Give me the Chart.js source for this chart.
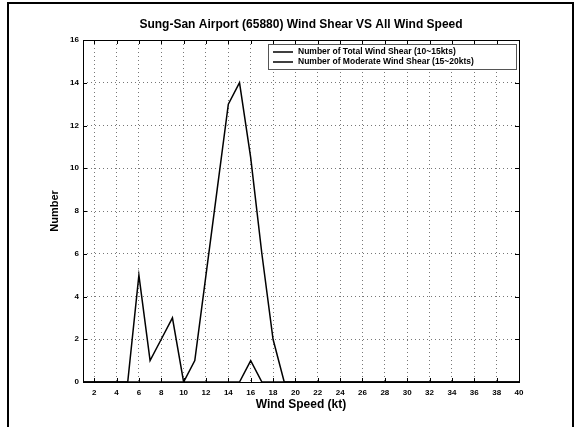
<!DOCTYPE html>
<html>
<head>
<meta charset="utf-8">
<script src="https://cdn.jsdelivr.net/npm/chart.js@4"></script>
<style>
  html,body{margin:0;padding:0;background:#fff;}
  #wrap{width:581px;height:427px;}
</style>
</head>
<body>
<div id="wrap"><canvas id="shear" width="581" height="427"></canvas></div>
<script>
// wind speed bins (kt)
const speeds = [1,2,3,4,5,6,7,8,9,10,11,12,13,14,15,16,17,18,19,20,
                21,22,23,24,25,26,27,28,29,30,31,32,33,34,35,36,37,38,39,40];
const totalShear = [0,0,0,0,0,5,1,2,3,0,1,5,9,13,14,10.5,6,2,0,0,
                    0,0,0,0,0,0,0,0,0,0,0,0,0,0,0,0,0,0,0,0];
const moderateShear = [0,0,0,0,0,0,0,0,0,0,0,0,0,0,0,1,0,0,0,0,
                       0,0,0,0,0,0,0,0,0,0,0,0,0,0,0,0,0,0,0,0];
const xTicks = [2,4,6,8,10,12,14,16,18,20,22,24,26,28,30,32,34,36,38,40];
const yTicks = [0,2,4,6,8,10,12,14,16];

const FONT = '"Liberation Sans", Arial, sans-serif';
const pts = ys => speeds.map((s,i)=>({x:s,y:ys[i]}));

// frame, box, inward ticks, titles and legend
const decor = {
  id:'decor',
  afterDraw(chart){
    const {ctx, chartArea:a, scales:{x,y}} = chart;
    ctx.save();
    ctx.strokeStyle = '#000';
    ctx.lineWidth = 1;
    ctx.strokeRect(a.left+0.5, a.top+0.5, a.right-a.left, a.bottom-a.top);
    // inward tick marks
    ctx.beginPath();
    xTicks.forEach(v=>{
      const px = Math.round(x.getPixelForValue(v))+0.5;
      ctx.moveTo(px,a.bottom); ctx.lineTo(px,a.bottom-4);
      ctx.moveTo(px,a.top); ctx.lineTo(px,a.top+4);
    });
    yTicks.forEach(v=>{
      const py = Math.round(y.getPixelForValue(v))+0.5;
      ctx.moveTo(a.left,py); ctx.lineTo(a.left+4,py);
      ctx.moveTo(a.right,py); ctx.lineTo(a.right-4,py);
    });
    ctx.stroke();
    // outer figure frame
    ctx.lineWidth = 2;
    ctx.beginPath();
    ctx.moveTo(8,440); ctx.lineTo(8,3); ctx.lineTo(573,3); ctx.lineTo(573,440);
    ctx.stroke();

    ctx.fillStyle = '#000';
    ctx.textAlign = 'center';
    ctx.textBaseline = 'middle';
    const cx = (a.left+a.right)/2;
    ctx.font = 'bold 12px '+FONT;
    ctx.fillText('Sung-San Airport (65880) Wind Shear VS All Wind Speed', cx, 25);
    ctx.fillText('Wind Speed (kt)', cx, 405);
    ctx.font = 'bold 11px '+FONT;
    ctx.save();
    ctx.translate(55,(a.top+a.bottom)/2);
    ctx.rotate(-Math.PI/2);
    ctx.fillText('Number',0,0);
    ctx.restore();

    // legend
    const lx = 268, ly = 44, lw = 248, lh = 25;
    ctx.fillStyle = '#fff';
    ctx.fillRect(lx,ly,lw,lh);
    ctx.lineWidth = 1;
    ctx.strokeStyle = '#555';
    ctx.strokeRect(lx+0.5,ly+0.5,lw,lh);
    ctx.font = 'bold 8.5px '+FONT;
    ctx.textAlign = 'left';
    chart.data.datasets.forEach((ds,i)=>{
      const yy = ly+8+i*10;
      ctx.strokeStyle = ds.borderColor;
      ctx.lineWidth = ds.borderWidth;
      ctx.beginPath(); ctx.moveTo(lx+5,yy); ctx.lineTo(lx+25,yy); ctx.stroke();
      ctx.fillStyle = '#000';
      ctx.fillText(ds.label, lx+30, yy);
    });
    ctx.restore();
  }
};

new Chart(document.getElementById('shear').getContext('2d'),{
  type:'line',
  data:{
    datasets:[
      {label:'Number of Total Wind Shear (10~15kts)', data:pts(totalShear),
       borderColor:'#000', borderWidth:1.5, pointRadius:0, tension:0},
      {label:'Number of Moderate Wind Shear (15~20kts)', data:pts(moderateShear),
       borderColor:'#000', borderWidth:1.5, pointRadius:0, tension:0}
    ]
  },
  options:{
    responsive:false, animation:false,
    layout:{padding:{top:40,right:62,left:0,bottom:0}},
    plugins:{legend:{display:false}, title:{display:false}, tooltip:{enabled:false}},
    scales:{
      x:{type:'linear', min:1, max:40,
         afterBuildTicks:s=>{s.ticks = xTicks.map(v=>({value:v}));},
         afterFit:s=>{s.height = 45;},
         grid:{color:'#777', drawTicks:false, lineWidth:1},
         border:{display:false, dash:[1,3]},
         ticks:{padding:6, color:'#000', font:{family:FONT, size:8, weight:'bold'}, maxRotation:0, autoSkip:false}},
      y:{min:0, max:16,
         afterBuildTicks:s=>{s.ticks = yTicks.map(v=>({value:v}));},
         afterFit:s=>{s.width = 83;},
         grid:{color:'#777', drawTicks:false, lineWidth:1},
         border:{display:false, dash:[1,3]},
         ticks:{padding:4, color:'#000', font:{family:FONT, size:8, weight:'bold'}}}
    }
  },
  plugins:[decor]
});
</script>
</body>
</html>
